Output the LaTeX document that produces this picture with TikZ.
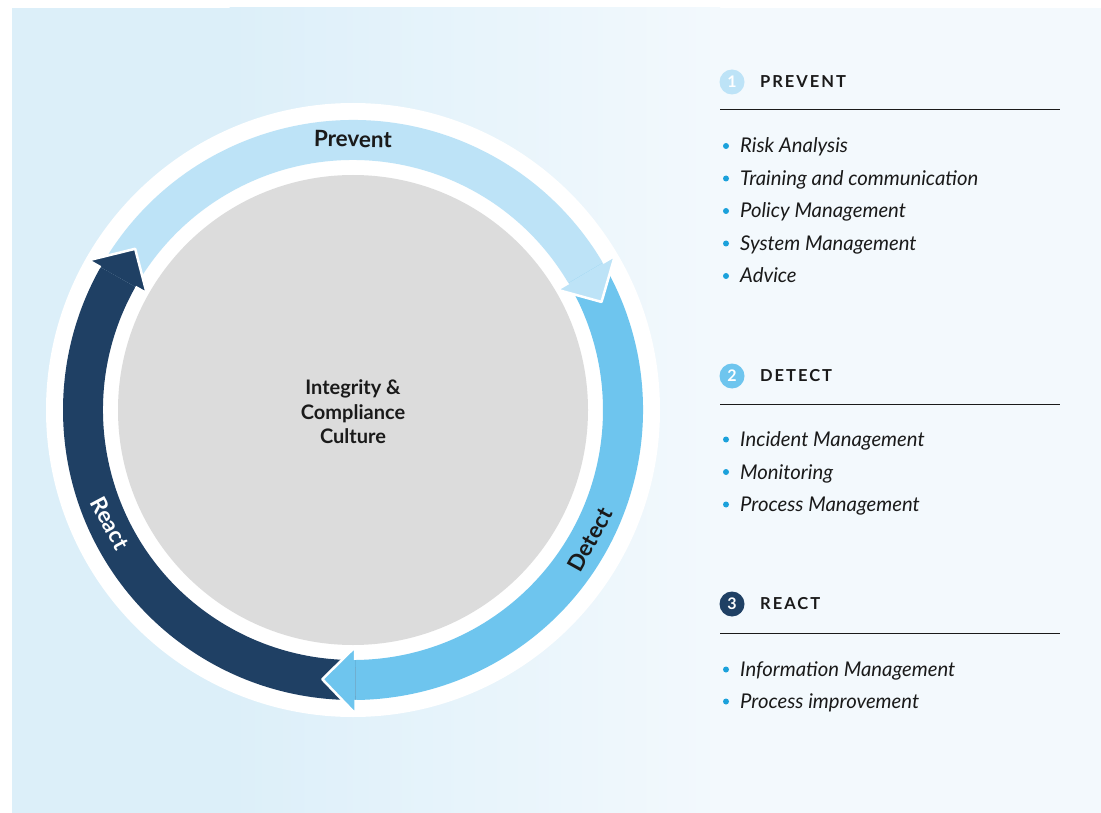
\documentclass[tikz,border=0pt]{standalone}
\usepackage{fontspec}
\setmainfont{Lato}
\newfontfamily\hdfont[LetterSpace=12]{Lato}
\definecolor{bgL}{HTML}{DCEFF9}
\definecolor{bgR}{HTML}{F3F9FD}
\definecolor{cPrev}{HTML}{BDE3F7}
\definecolor{cDet}{HTML}{6EC5EE}
\definecolor{cReact}{HTML}{1F4064}
\definecolor{cGray}{HTML}{DCDCDC}
\definecolor{cBul}{HTML}{1BA1DB}
\definecolor{cTxt}{HTML}{1A1A1A}
\newcommand\arcbody[3]{\fill[#1] (#2:290pt) arc[start angle=#2,end angle=#3,radius=290pt] -- (#3:250pt) arc[start angle=#3,end angle=#2,radius=250pt] -- cycle;}
\newcommand\arrowhd[3]{\fill[#1] (#2:304pt) -- (#3:271pt) -- (#2:237pt) -- cycle;
 \draw[white,line width=2.5pt,line join=round] (#2:290pt) -- (#2:304pt) -- (#3:271pt) -- (#2:237pt) -- (#2:250pt);}
\tikzset{
 arclbl/.style={inner sep=0pt,font=\bfseries\fontsize{22.5}{26}\selectfont,text=cTxt},
 numc/.style={circle,minimum size=25pt,inner sep=0pt,text=white,font=\bfseries\fontsize{16}{16}\selectfont},
 hd/.style={anchor=west,inner sep=0pt,text=cTxt,font=\hdfont\bfseries\fontsize{16.5}{16.5}\selectfont},
 item/.style={anchor=base west,inner sep=0pt,text=cTxt,font=\itshape\fontsize{20.3}{24}\selectfont},
 rulec/.style={draw=cTxt,line width=1pt},
 bul/.style={fill=cBul}
}
\begin{document}
\begin{tikzpicture}[x=1pt,y=1pt]
\useasboundingbox (0,0) rectangle (1101,-813);
\fill[white] (0,0) rectangle (1101,-813);
\fill[bgL] (12,-8) rectangle (230,-813);
\shade[left color=bgL,right color=bgR] (229.5,-8) rectangle (720,-813);
\fill[bgR] (719.5,-8) rectangle (1101,-813);
\begin{scope}[shift={(353,-410)}]
\fill[white] (0,0) circle[radius=307pt];
\fill[cGray] (0,0) circle[radius=235pt];
\arcbody{cPrev}{150.5}{30.5}
\arcbody{cDet}{30.5}{-89.5}
\arcbody{cReact}{270.5}{150.5}
\arrowhd{cPrev}{30.5}{23.5}
\arrowhd{cDet}{-89.5}{-96.5}
\arrowhd{cReact}{150.5}{143.5}
\node[arclbl,rotate=-1] (lp) at (90:271pt) {Prevent};
\node[arclbl,rotate=61] (ld) at (-28.7:270pt) {Detect};
\node[arclbl,text=white,rotate=-62] (lr) at (205:268pt) {React};
\node[align=center,inner sep=0pt,text=cTxt,font=\bfseries\fontsize{20}{24.5}\selectfont] (ctr) at (0,-2) {Integrity \&\\Compliance\\Culture};
\end{scope}
% right column
\node[numc,fill=cPrev] (n1) at (732,-82) {1};
\node[hd] (h1) at (760,-82) {PREVENT};
\draw[rulec] (720,-110) -- (1060,-110);
\foreach \y/\t [count=\i] in {153/Risk Analysis,185.5/Training and communication,218/Policy Management,250.5/System Management,283/Advice}{
 \fill[bul] (726,-\y+7) circle[radius=3pt];
 \node[item] (p\i) at (740,-\y) {\t};
}
\node[numc,fill=cDet] (n2) at (732,-376) {2};
\node[hd] (h2) at (760,-376) {DETECT};
\draw[rulec] (720,-404) -- (1060,-404);
\foreach \y/\t [count=\i] in {446.5/Incident Management,479/Monitoring,511.5/Process Management}{
 \fill[bul] (726,-\y+7) circle[radius=3pt];
 \node[item] (d\i) at (740,-\y) {\t};
}
\node[numc,fill=cReact] (n3) at (732,-604) {3};
\node[hd] (h3) at (760,-604) {REACT};
\draw[rulec] (720,-633) -- (1060,-633);
\foreach \y/\t [count=\i] in {676.5/Information Management,708.5/Process improvement}{
 \fill[bul] (726,-\y+7) circle[radius=3pt];
 \node[item] (r\i) at (740,-\y) {\t};
}
\end{tikzpicture}
\end{document}
